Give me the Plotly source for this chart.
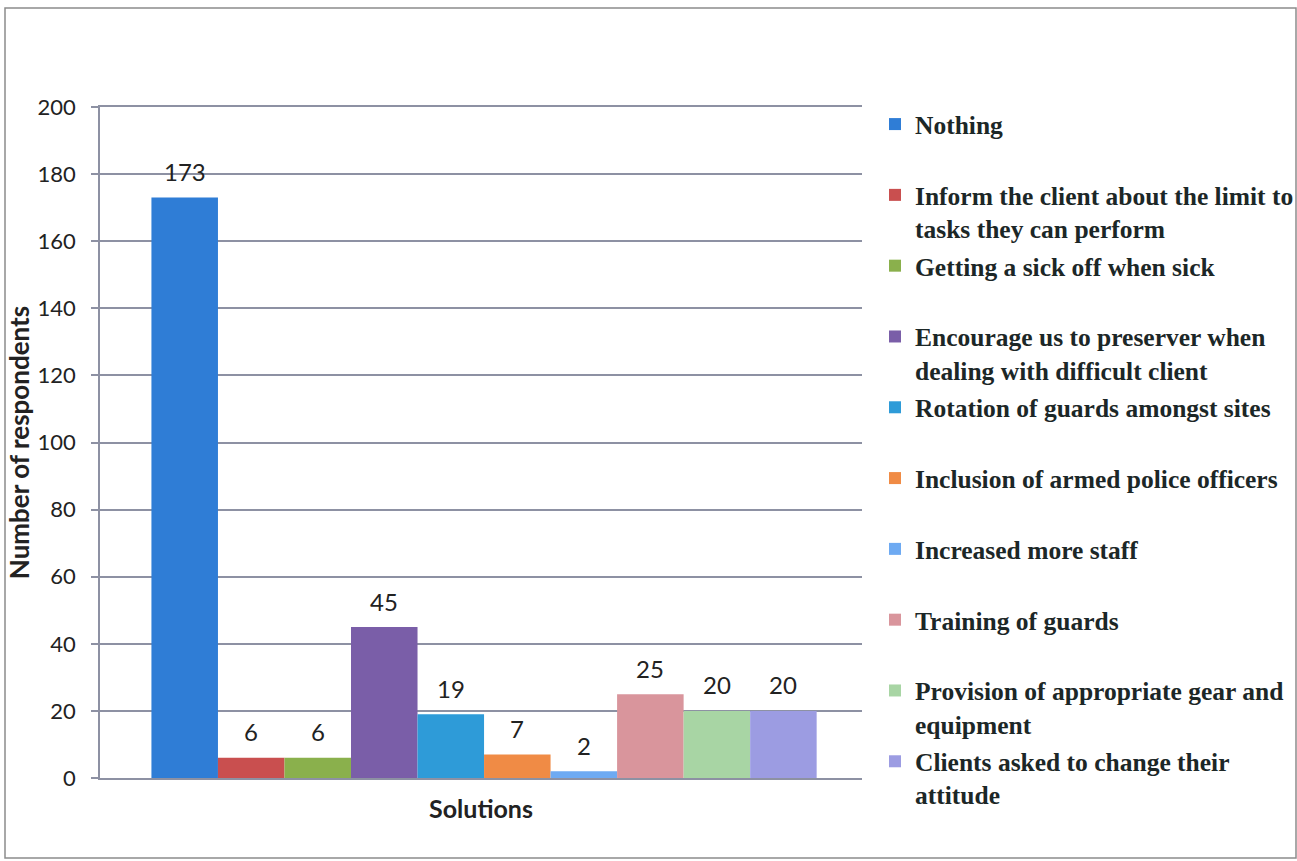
import plotly.graph_objects as go

# Survey: suggested solutions and number of respondents for each
category = ["Solutions"]
solutions = [
    "Nothing",
    "Inform the client about the limit to<br>tasks they can perform",
    "Getting a sick off when sick",
    "Encourage us to preserver when<br>dealing with difficult client",
    "Rotation of guards amongst sites",
    "Inclusion of armed police officers",
    "Increased more staff",
    "Training of guards",
    "Provision of appropriate gear and<br>equipment",
    "Clients asked to change their<br>attitude",
]
respondents = [173, 6, 6, 45, 19, 7, 2, 25, 20, 20]
colors = [
    "#2f7dd6", "#c94f4f", "#8ab04c", "#7a5ea8", "#2e9bd8",
    "#f08b45", "#6eaaf2", "#d9959c", "#a8d5a4", "#9c9ce2",
]
y_ticks = [0, 20, 40, 60, 80, 100, 120, 140, 160, 180, 200]

W, H = 1297, 861
L, R, T, B = 100, 435, 107, 83
BARGAP = 0.127
X_RANGE = [-0.504, 0.496]
GRID = "#8d91a3"

fig = go.Figure()
for i, (name, val, col) in enumerate(zip(solutions, respondents, colors)):
    # every legend entry takes two lines so the entries are evenly spaced
    label = name if "<br>" in name else name + "<br>\u00a0"
    fig.add_trace(go.Bar(
        x=category, y=[val], name=label, marker=dict(color=col, line=dict(width=0)),
        legendgroup=f"g{i}", hoverinfo="skip",
    ))

# value labels above each bar, placed at the bar centres of the group
n = len(respondents)
slot = (1 - BARGAP) / n
annotations = []
for i, val in enumerate(respondents):
    xc = -0.5 + BARGAP / 2 + (i + 0.5) * slot
    annotations.append(dict(
        x=xc, y=val, xref="x", yref="y", text=str(val), showarrow=False,
        yanchor="middle", yshift=26,
        font=dict(family="Lato", size=24, color="#222222"),
    ))

# outer frame of the chart
px2x = lambda p: (p - L) / (W - L - R)
px2y = lambda p: (H - B - p) / (H - T - B)
shapes = [dict(
    type="rect", xref="paper", yref="paper",
    x0=px2x(5), x1=px2x(1296), y0=px2y(858), y1=px2y(8),
    line=dict(color="#8c8c8c", width=1.5), fillcolor="rgba(0,0,0,0)", layer="below",
)]

fig.update_layout(
    width=W, height=H,
    margin=dict(l=L, r=R, t=T, b=B, pad=0),
    paper_bgcolor="white", plot_bgcolor="white",
    barmode="group", bargap=BARGAP, bargroupgap=0,
    annotations=annotations, shapes=shapes,
    showlegend=True,
    legend=dict(
        xref="container", yref="container",
        x=875 / W, xanchor="left", y=1 - 101 / H, yanchor="top",
        traceorder="grouped", tracegroupgap=1.5, valign="top", maxheight=1000,
        font=dict(family="Liberation Serif", size=25.5, color="#1c2727", weight="bold"),
        bgcolor="rgba(0,0,0,0)", borderwidth=0,
        itemclick=False, itemdoubleclick=False,
    ),
    xaxis=dict(
        range=X_RANGE, showticklabels=False, ticks="", showgrid=False,
        showline=True, mirror=True, linecolor=GRID, linewidth=1.5, zeroline=False,
        title=dict(text="<b>Solutions</b>", standoff=22,
                   font=dict(family="Lato", size=25, color="#222222")),
    ),
    yaxis=dict(
        range=[0, 200], tickvals=y_ticks, showgrid=True,
        gridcolor=GRID, gridwidth=1.5,
        showline=True, linecolor=GRID, linewidth=1.5,
        ticks="outside", ticklen=7, tickcolor=GRID, tickwidth=1.5,
        ticklabelstandoff=11, zeroline=False,
        tickfont=dict(family="Lato", size=22, color="#222222"),
        title=dict(text="<b>Number of respondents</b>", standoff=0,
                   font=dict(family="Lato", size=26, color="#222222")),
    ),
)

fig.write_html("out.html")
